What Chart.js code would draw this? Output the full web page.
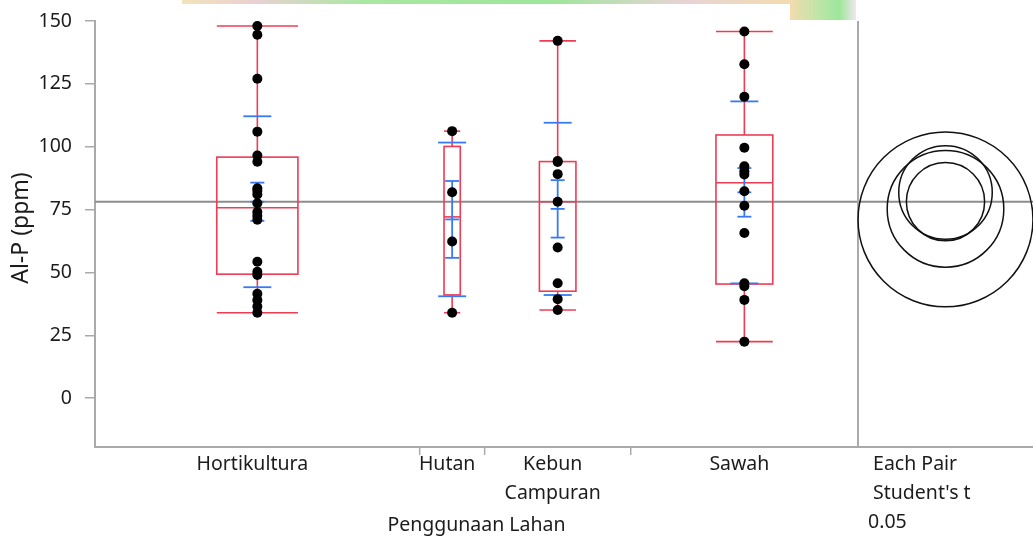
<!DOCTYPE html>
<html>
<head>
<meta charset="utf-8">
<title>Oneway Al-P</title>
<script src="https://cdn.jsdelivr.net/npm/chart.js@4.4.1/dist/chart.umd.min.js"></script>
<style>
    html, body { margin: 0; padding: 0; background: #fff; }
    #wrap { position: relative; width: 1033px; height: 537px; }
    #oneway { position: absolute; left: 0; top: 0; }
    .band { position: absolute; top: 0; }
    #band1 { left: 182px; width: 612px; height: 4px;
        background: linear-gradient(90deg, #f4e2bb 0%, #ead0d2 12%, #a9e8a2 30%, #9de69a 60%, #e8d3d6 82%, #f3dcae 100%); }
    #band2 { left: 790px; width: 66px; height: 20px;
        background: linear-gradient(90deg, #f3dcae 0%, #b6e6a6 50%, #9de69a 75%, #f2e6ee 100%); }
</style>
</head>
<body>
<div id="wrap">
    <div class="band" id="band1"></div>
    <div class="band" id="band2"></div>
    <canvas id="oneway" width="1033" height="537"></canvas>
</div>
<script>
// data
const groups = ['Hortikultura', 'Hutan', 'Kebun Campuran', 'Sawah'];
const hortikultura = [34, 36.5, 39, 41.5, 49, 50.3, 54.3, 71, 72.5, 74, 77.5, 81, 82.5, 83.5, 94, 96.5, 106, 127, 144.5, 148];
const hutan = [34, 62.3, 81.9, 106.2];
const kebunCampuran = [35.1, 39.4, 45.7, 59.9, 78.1, 89.1, 93.9, 94.3, 142.1];
const sawah = [22.5, 39.1, 44.5, 45.7, 65.7, 76.5, 82.3, 89, 90.3, 92.2, 99.6, 119.9, 132.8, 145.8];
const yTicks = [0, 25, 50, 75, 100, 125, 150];
const compLabel = [' Each Pair', " Student's t", '0.05'];
const tCrit = 2.0167; // Student's t, alpha 0.05, df 43

const RED = 'rgb(237,60,84)';
const BLUE = 'rgb(56,122,245)';
const GRAY = '#aaaaaa';
const TEXT = '#1c1c1c';
const FONT = "'Noto Sans', 'Open Sans', sans-serif";
const FSIZE = 19.5;

const allGroups = [hortikultura, hutan, kebunCampuran, sawah];

// JMP style quantile, position p*(n+1)
const quantile = (sorted, p) => {
    const n = sorted.length;
    const pos = p * (n + 1);
    if (pos <= 1) return sorted[0];
    if (pos >= n) return sorted[n - 1];
    const i = Math.floor(pos);
    return sorted[i - 1] + (pos - i) * (sorted[i] - sorted[i - 1]);
};

// each level gets a slot on x as wide as its count
let start = 0;
const stats = allGroups.map((vals) => {
    const s = [...vals].sort((a, b) => a - b);
    const n = s.length;
    const mean = s.reduce((a, b) => a + b, 0) / n;
    const ss = s.reduce((a, v) => a + (v - mean) ** 2, 0);
    const st = {
        n, mean, ss,
        sd: Math.sqrt(ss / (n - 1)),
        min: s[0], max: s[n - 1],
        q1: quantile(s, 0.25), med: quantile(s, 0.5), q3: quantile(s, 0.75),
        from: start, to: start + n, center: start + n / 2
    };
    st.se = st.sd / Math.sqrt(n);
    start += n;
    return st;
});
const mainEnd = start;
const xMax = mainEnd + 10.78;
const circleX = (mainEnd + xMax) / 2;
const totalN = stats.reduce((a, s) => a + s.n, 0);
const grandMean = allGroups.flat().reduce((a, b) => a + b, 0) / totalN;
const pooledSd = Math.sqrt(stats.reduce((a, s) => a + s.ss, 0) / (totalN - stats.length));

const pointData = [];
allGroups.forEach((vals, i) => vals.forEach(v => pointData.push({ x: stats[i].center, y: v })));

const hLine = (ctx, x0, x1, y) => { ctx.beginPath(); ctx.moveTo(x0, y); ctx.lineTo(x1, y); ctx.stroke(); };
const vLine = (ctx, x, y0, y1) => { ctx.beginPath(); ctx.moveTo(x, y0); ctx.lineTo(x, y1); ctx.stroke(); };

const onewayPlugin = {
    id: 'onewayMarks',
    beforeDatasetsDraw(chart) {
        const { ctx, chartArea: area, scales: { x, y } } = chart;
        ctx.save();
        ctx.beginPath();
        ctx.rect(area.left, area.top, area.right - area.left, area.bottom - area.top);
        ctx.clip();

        // grand mean
        ctx.strokeStyle = '#8c8c8c';
        ctx.lineWidth = 2;
        hLine(ctx, area.left, area.right, y.getPixelForValue(grandMean));

        // separator for the comparison circles
        ctx.strokeStyle = GRAY;
        vLine(ctx, x.getPixelForValue(mainEnd), area.top, area.bottom);

        stats.forEach((s) => {
            const cx = x.getPixelForValue(s.center);
            const half = (x.getPixelForValue(s.center + s.n * 0.125) - cx);
            // box plot
            ctx.strokeStyle = RED;
            ctx.lineWidth = 1.6;
            const yq1 = y.getPixelForValue(s.q1);
            const yq3 = y.getPixelForValue(s.q3);
            ctx.strokeRect(cx - half, yq3, half * 2, yq1 - yq3);
            hLine(ctx, cx - half, cx + half, y.getPixelForValue(s.med));
            vLine(ctx, cx, yq3, y.getPixelForValue(s.max));
            vLine(ctx, cx, yq1, y.getPixelForValue(s.min));
            hLine(ctx, cx - half, cx + half, y.getPixelForValue(s.max));
            hLine(ctx, cx - half, cx + half, y.getPixelForValue(s.min));

            // means, error bars, std dev lines
            ctx.strokeStyle = BLUE;
            ctx.lineWidth = 1.8;
            hLine(ctx, cx - 14, cx + 14, y.getPixelForValue(s.mean + s.sd));
            hLine(ctx, cx - 14, cx + 14, y.getPixelForValue(s.mean - s.sd));
            const yHi = y.getPixelForValue(s.mean + s.se);
            const yLo = y.getPixelForValue(s.mean - s.se);
            vLine(ctx, cx, yHi, yLo);
            hLine(ctx, cx - 7, cx + 7, yHi);
            hLine(ctx, cx - 7, cx + 7, yLo);
            hLine(ctx, cx - 7, cx + 7, y.getPixelForValue(s.mean));
        });

        // comparison circles
        ctx.strokeStyle = '#111';
        ctx.lineWidth = 1.5;
        const ccx = x.getPixelForValue(circleX);
        stats.forEach((s) => {
            const cy = y.getPixelForValue(s.mean);
            const r = Math.abs(y.getPixelForValue(s.mean + tCrit * pooledSd / Math.sqrt(s.n)) - cy);
            ctx.beginPath();
            ctx.arc(ccx, cy, r, 0, Math.PI * 2);
            ctx.stroke();
        });
        ctx.restore();
    },
    afterDraw(chart) {
        const { ctx, chartArea: area, scales: { x } } = chart;
        ctx.save();
        // tick marks between levels
        ctx.strokeStyle = GRAY;
        ctx.lineWidth = 1.5;
        stats.slice(1).forEach(s => vLine(ctx, x.getPixelForValue(s.from), area.bottom, area.bottom + 8));

        ctx.fillStyle = TEXT;
        ctx.font = `${FSIZE}px ${FONT}`;
        ctx.textBaseline = 'middle';
        ctx.textAlign = 'center';
        ctx.fillText('Penggunaan Lahan', (area.left + x.getPixelForValue(mainEnd)) / 2, 525);
        ctx.textAlign = 'left';
        compLabel.forEach((t, i) => ctx.fillText(t, x.getPixelForValue(mainEnd) + 10, 464 + i * 29));

        // y axis title, a bit above the middle like JMP
        ctx.translate(21, (area.top + area.bottom) / 2 - 6);
        ctx.rotate(-Math.PI / 2);
        ctx.textAlign = 'center';
        ctx.font = `23px ${FONT}`;
        ctx.fillText('Al-P (ppm)', 0, 0);
        ctx.restore();
    }
};

new Chart(document.getElementById('oneway'), {
    type: 'scatter',
    data: {
        datasets: [{
            label: 'Al-P (ppm)',
            data: pointData,
            backgroundColor: '#000',
            borderWidth: 0,
            pointRadius: 5,
            pointHoverRadius: 5
        }]
    },
    options: {
        responsive: false,
        animation: false,
        devicePixelRatio: 1,
        events: [],
        layout: { autoPadding: false, padding: { top: 21, right: 0, left: 0, bottom: 0 } },
        plugins: { legend: { display: false }, tooltip: { enabled: false } },
        scales: {
            x: {
                type: 'linear',
                min: 0,
                max: xMax,
                afterBuildTicks: (scale) => { scale.ticks = stats.map(s => ({ value: s.center })); },
                afterFit: (scale) => { scale.height = 90; scale.paddingLeft = 0; scale.paddingRight = 0; },
                ticks: {
                    autoSkip: false,
                    maxRotation: 0,
                    padding: 3,
                    labelOffset: -5,
                    color: TEXT,
                    font: { family: FONT, size: FSIZE, lineHeight: '29px' },
                    callback: (value, index) => groups[index].split(' ')
                },
                grid: { display: false, drawTicks: false },
                border: { display: true, color: GRAY, width: 2 }
            },
            y: {
                min: -19.4,
                max: 150,
                afterBuildTicks: (scale) => { scale.ticks = yTicks.map(v => ({ value: v })); },
                afterFit: (scale) => { scale.width = 95; scale.paddingTop = 0; scale.paddingBottom = 0; },
                ticks: {
                    padding: 13,
                    color: TEXT,
                    font: { family: FONT, size: FSIZE }
                },
                grid: { drawOnChartArea: false, drawTicks: true, tickLength: 10, color: GRAY, lineWidth: 1.5 },
                border: { display: true, color: GRAY, width: 2 }
            }
        }
    },
    plugins: [onewayPlugin]
});
</script>
</body>
</html>
